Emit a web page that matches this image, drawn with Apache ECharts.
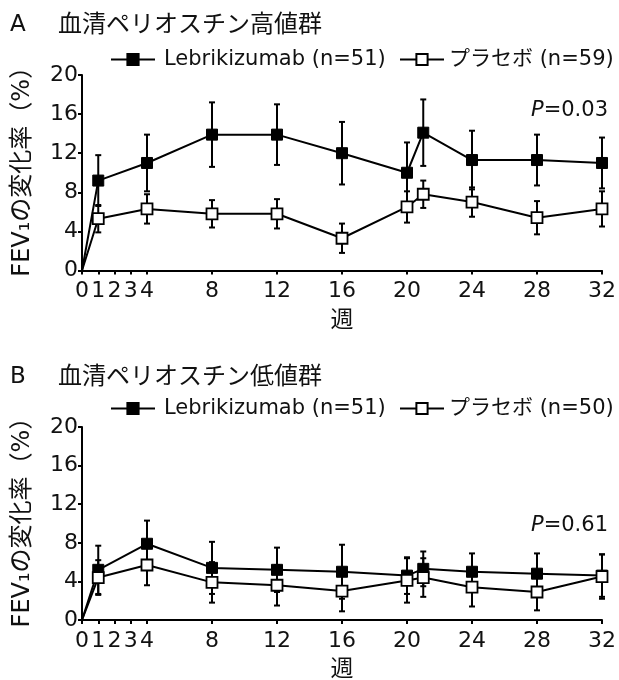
<!DOCTYPE html>
<html><head><meta charset="utf-8">
<script src="https://cdn.jsdelivr.net/npm/echarts@6/dist/echarts.min.js"></script>
<style>html,body{margin:0;padding:0;background:#fff}#c{width:619px;height:680px}</style>
</head><body><div id="c"></div>
<script>
const weeks = [0, 1, 4, 8, 12, 16, 20, 21, 24, 28, 32];
const xTickValues = [0, 1, 2, 3, 4, 8, 12, 16, 20, 24, 28, 32];
const yTicks = [0, 4, 8, 12, 16, 20];
const lebA    = [0, 9.2, 11.0, 13.9, 13.9, 12.0, 10.0, 14.1, 11.3, 11.3, 11.0];
const lebAErr = [0, 2.6, 2.9, 3.3, 3.1, 3.2, 3.1, 3.4, 3.0, 2.6, 2.6];
const plaA    = [0, 5.3, 6.3, 5.8, 5.8, 3.3, 6.5, 7.8, 7.0, 5.4, 6.3];
const plaAErr = [0, 1.4, 1.5, 1.4, 1.5, 1.5, 1.6, 1.4, 1.5, 1.7, 1.8];
const lebB    = [0, 5.2, 7.9, 5.4, 5.2, 5.0, 4.6, 5.3, 5.0, 4.8, 4.6];
const lebBErr = [0, 2.5, 2.4, 2.7, 2.3, 2.8, 1.9, 1.8, 1.9, 2.1, 2.2];
const plaB    = [0, 4.4, 5.7, 3.9, 3.6, 3.0, 4.1, 4.4, 3.4, 2.9, 4.5];
const plaBErr = [0, 1.8, 2.1, 2.1, 2.1, 2.1, 2.3, 2.0, 2.0, 1.9, 2.3];
const panelLetters = ['A', 'B'];
const panelTitles = ['血清ペリオスチン高値群', '血清ペリオスチン低値群'];
const lebNames = ['Lebrikizumab (n=51)', 'Lebrikizumab (n=51)'];
const plaNames = ['プラセボ (n=59)', 'プラセボ (n=50)'];
const pValues = ['0.03', '0.61'];
const yAxisName = 'FEV₁の変化率（%）';
const xAxisName = '週';

const LAT = "'DejaVu Sans', 'Noto Sans CJK JP', sans-serif";
const CJK = "'Noto Sans CJK JP', 'DejaVu Sans', sans-serif";
const chart = echarts.init(document.getElementById('c'), null, {renderer: 'canvas'});

function lineData(means) {
  return weeks.map((w, i) => w === 0 ? {value: [w, means[i]], symbol: 'none'} : {value: [w, means[i]]});
}
function errData(means, errs) {
  const out = [];
  weeks.forEach((w, i) => { if (w !== 0) out.push([w, means[i], errs[i]]); });
  return out;
}
function renderErr(params, api) {
  const x = api.value(0), m = api.value(1), e = api.value(2);
  const top = api.coord([x, m + e]);
  const bot = api.coord([x, m - e]);
  const hw = 3;
  const st = {stroke: '#000', lineWidth: 2};
  return {type: 'group', children: [
    {type: 'line', shape: {x1: top[0], y1: top[1], x2: bot[0], y2: bot[1]}, style: st},
    {type: 'line', shape: {x1: top[0] - hw, y1: top[1], x2: top[0] + hw, y2: top[1]}, style: st},
    {type: 'line', shape: {x1: bot[0] - hw, y1: bot[1], x2: bot[0] + hw, y2: bot[1]}, style: st}
  ]};
}

const grids = [
  {left: 82, right: 15, top: 75, height: 195.5},
  {left: 82, right: 15, top: 427, height: 195}
];
const titleTops = [8, 360];
const legendTops = [44, 393];
const pTops = [95, 510];

const xAxes = [0, 1].map(i => ({
  type: 'value', gridIndex: i, min: 0, max: 32,
  name: xAxisName, nameLocation: 'middle', nameGap: 36,
  nameTextStyle: {fontFamily: CJK, fontSize: 23, color: '#111'},
  axisLine: {lineStyle: {color: '#000', width: 2}},
  axisTick: {customValues: xTickValues, length: 4, lineStyle: {color: '#000', width: 2}},
  axisLabel: {customValues: xTickValues, fontFamily: LAT, fontSize: 22, color: '#111', margin: 10},
  splitLine: {show: false}
}));
const yAxes = [0, 1].map(i => ({
  type: 'value', gridIndex: i, min: 0, max: 20, interval: 4,
  name: yAxisName, nameLocation: 'middle', nameGap: 47,
  nameTextStyle: {fontFamily: LAT, fontSize: 24, color: '#111', padding: [0, 0, 0, 14]},
  axisLine: {show: true, lineStyle: {color: '#000', width: 2}},
  axisTick: {show: true, length: 4, lineStyle: {color: '#000', width: 2}},
  axisLabel: {fontFamily: LAT, fontSize: 22, color: '#111', margin: 4},
  splitLine: {show: false}
}));

const panels = [
  {leb: lebA, lebE: lebAErr, pla: plaA, plaE: plaAErr},
  {leb: lebB, lebE: lebBErr, pla: plaB, plaE: plaBErr}
];
const series = [];
panels.forEach((p, i) => {
  series.push({type: 'custom', xAxisIndex: i, yAxisIndex: i, renderItem: renderErr, data: errData(p.leb, p.lebE), silent: true, z: 2});
  series.push({type: 'line', name: lebNames[i], xAxisIndex: i, yAxisIndex: i, data: lineData(p.leb),
    symbol: 'rect', symbolSize: 11, showAllSymbol: true,
    lineStyle: {color: '#000', width: 2}, itemStyle: {color: '#000', borderColor: '#000', borderWidth: 1}, z: 3});
  series.push({type: 'custom', xAxisIndex: i, yAxisIndex: i, renderItem: renderErr, data: errData(p.pla, p.plaE), silent: true, z: 4});
  series.push({type: 'line', name: plaNames[i], xAxisIndex: i, yAxisIndex: i, data: lineData(p.pla),
    symbol: 'rect', symbolSize: 11, showAllSymbol: true,
    lineStyle: {color: '#000', width: 2}, itemStyle: {color: '#fff', borderColor: '#000', borderWidth: 1.8}, z: 5});
});

const titles = [];
[0, 1].forEach(i => {
  titles.push({text: panelLetters[i], left: 5, top: titleTops[i] + 1, textStyle: {fontFamily: LAT, fontSize: 23, fontWeight: 'normal', color: '#111'}});
  titles.push({text: panelTitles[i], left: 53, top: titleTops[i] - 2, textStyle: {fontFamily: CJK, fontSize: 24, fontWeight: 'normal', color: '#111'}});
  titles.push({text: '{i|P}=' + pValues[i], right: 6, top: pTops[i], textStyle: {fontFamily: LAT, fontSize: 21, fontWeight: 'normal', color: '#111',
    rich: {i: {fontFamily: LAT, fontSize: 21, fontStyle: 'italic', color: '#111'}}}});
});

const legends = [];
[0, 1].forEach(i => {
  legends.push({left: 105, top: legendTops[i], itemWidth: 44, itemHeight: 14,
    data: [lebNames[i]], selectedMode: false,
    textStyle: {fontFamily: LAT, fontSize: 21, color: '#111', padding: [0, 0, 0, 4]}});
  legends.push({left: 394, top: legendTops[i], itemWidth: 44, itemHeight: 14,
    data: [plaNames[i]], selectedMode: false,
    textStyle: {fontFamily: LAT, fontSize: 21, color: '#111', padding: [0, 0, 0, 0]}});
});

chart.setOption({
  animation: false,
  backgroundColor: '#fff',
  title: titles,
  legend: legends,
  grid: grids,
  xAxis: xAxes,
  yAxis: yAxes,
  series: series
});
</script></body></html>
